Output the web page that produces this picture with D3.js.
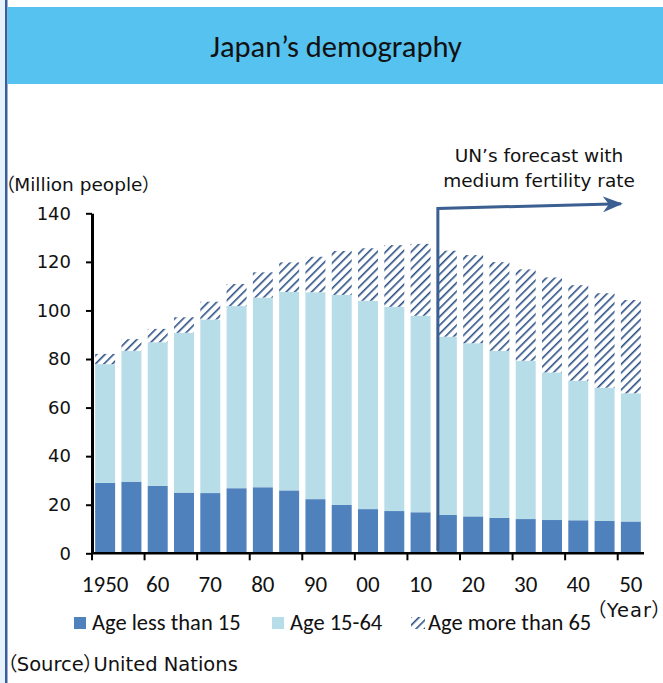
<!DOCTYPE html>
<html><head><meta charset="utf-8">
<script src="https://cdn.jsdelivr.net/npm/d3@7"></script>
<style>
html,body{margin:0;padding:0;background:#fff;}
svg{display:block;}
.goth{font-family:"DejaVu Sans","Noto Sans CJK JP",sans-serif;font-feature-settings:"palt";}
.cal{font-family:Carlito,Lato,"Open Sans",sans-serif;}
</style>
</head><body>
<svg id="chart" width="663" height="683"></svg>
<script>
const years = ["1950","1955","1960","1965","1970","1975","1980","1985","1990","1995","2000","2005","2010","2015","2020","2025","2030","2035","2040","2045","2050"];
const tickLabels = ["1950","60","70","80","90","00","10","20","30","40","50"];
const under15 = [29.0,29.5,27.8,25.0,24.8,26.8,27.2,25.9,22.3,19.9,18.2,17.4,16.9,15.8,15.2,14.6,14.1,13.7,13.6,13.3,13.1];
const age15to64 = [48.9,53.9,59.1,65.8,71.5,75.0,78.1,81.7,85.2,86.5,85.8,84.1,80.9,73.4,71.3,68.8,65.2,60.8,57.5,54.9,52.8];
const over65 = [4.2,4.8,5.5,6.4,7.3,9.1,10.4,12.2,14.6,18.1,21.6,25.4,29.6,35.4,36.3,36.5,37.6,39.1,39.3,38.9,38.4];
const yTicks = [0,20,40,60,80,100,120,140];
const seriesNames = ["Age less than 15","Age 15-64","Age more than 65"];
const forecastStart = "2015";

const svg = d3.select("#chart");
const W = 663, H = 683;

// frame
svg.append("rect").attr("x",0).attr("y",0).attr("width",5).attr("height",H).attr("fill","#e6f2fb");
svg.append("rect").attr("x",5).attr("y",0).attr("width",2.5).attr("height",H).attr("fill","#3c5d9c");
svg.append("rect").attr("x",7.5).attr("y",7).attr("width",W-7.5).attr("height",77).attr("fill","#56c2f0");
svg.append("text").attr("class","cal").attr("x",336).attr("y",57).attr("text-anchor","middle")
  .attr("font-size",30.5).attr("fill","#111").text("Japan\u2019s demography");

// defs: hatch
const defs = svg.append("defs");
const pat = defs.append("pattern").attr("id","hatch").attr("patternUnits","userSpaceOnUse")
  .attr("width",6).attr("height",6).attr("patternTransform","rotate(45)");
pat.append("rect").attr("width",6).attr("height",6).attr("fill","#fff");
pat.append("rect").attr("x",0).attr("y",0).attr("width",1.6).attr("height",6).attr("fill","#2a4f86");

const x = d3.scaleBand().domain(years).range([92,644]).paddingInner(0.24).paddingOuter(0.12);
const y = d3.scaleLinear().domain([0,140]).range([553.3,213.3]);

const data = years.map((yr,i)=>({year:yr,a:under15[i],b:age15to64[i],c:over65[i]}));
const stack = d3.stack().keys(["a","b","c"])(data);
const fills = ["#4f81bd","#b7dde8","url(#hatch)"];

svg.append("g").selectAll("g").data(stack).join("g").attr("fill",(d,i)=>fills[i])
  .selectAll("rect").data(d=>d).join("rect")
  .attr("x",d=>x(d.data.year)).attr("width",x.bandwidth())
  .attr("y",d=>y(d[1])).attr("height",d=>y(d[0])-y(d[1]));

// y axis
const yAxis = svg.append("g").attr("transform","translate(92,0)")
  .call(d3.axisLeft(y).tickValues(yTicks).tickSize(6).tickPadding(15).tickSizeOuter(0));
yAxis.select(".domain").attr("stroke","#000").attr("stroke-width",3);
yAxis.selectAll(".tick line").attr("stroke","#000").attr("stroke-width",2);
yAxis.selectAll(".tick text").attr("class","goth").attr("font-size",18).attr("fill","#111");

// x axis
const step = x.step();
const edge = yr => x(yr) - step*x.paddingInner()/2;
svg.append("line").attr("x1",92).attr("x2",644).attr("y1",y(0)).attr("y2",y(0))
  .attr("stroke","#000").attr("stroke-width",2.6);
const labeled = years.filter((d,i)=>i%2===0);
const xt = svg.append("g");
xt.selectAll("line").data(labeled).join("line")
  .attr("x1",d=>edge(d)).attr("x2",d=>edge(d)).attr("y1",y(0)).attr("y2",y(0)+7)
  .attr("stroke","#000").attr("stroke-width",2);
xt.selectAll("text").data(labeled).join("text").attr("class","cal")
  .attr("x",d=>x(d)+x.bandwidth()/2).attr("y",592).attr("text-anchor","middle")
  .attr("font-size",23).attr("fill","#111").text((d,i)=>tickLabels[i]);

// axis titles
svg.append("text").attr("class","goth").attr("x",5).attr("y",191).attr("font-size",18.5).attr("fill","#111").text("\uff08Million people\uff09");
svg.append("text").attr("class","goth").attr("x",596).attr("y",617).attr("font-size",19.5).attr("letter-spacing",1).attr("fill","#111").text("\uff08Year\uff09");

// annotation
const xa = x(forecastStart)+1;
defs.append("marker").attr("id","arr").attr("viewBox","0 0 20 16").attr("refX",18).attr("refY",8)
  .attr("markerWidth",20).attr("markerHeight",16).attr("markerUnits","userSpaceOnUse").attr("orient","auto")
  .append("path").attr("d","M0,0 L20,8 L0,16 L6,8 Z").attr("fill","#3a5f90");
svg.append("path").attr("d",`M${xa},${y(1)} L${xa},${y(142)} L${x("2050")},${y(143.9)}`)
  .attr("fill","none").attr("stroke","#3a5f90").attr("stroke-width",3).attr("marker-end","url(#arr)");
svg.append("text").attr("class","goth").attr("x",539).attr("y",162).attr("text-anchor","middle").attr("font-size",18.5).attr("fill","#111").text("UN\u2019s forecast with");
svg.append("text").attr("class","goth").attr("x",539).attr("y",187).attr("text-anchor","middle").attr("font-size",18.5).attr("fill","#111").text("medium fertility rate");

// legend
const legX = [74,272,411];
const leg = svg.append("g");
seriesNames.forEach((n,i)=>{
  leg.append("rect").attr("x",legX[i]).attr("y",617).attr("width",i===2?14:12).attr("height",12).attr("fill",fills[i]);
  leg.append("text").attr("class","cal").attr("x",legX[i]+(i===2?17:18)).attr("y",630).attr("font-size",22.5).attr("fill","#111").text(n);
});

// source
svg.append("text").attr("class","goth").attr("x",7).attr("y",671).attr("font-size",19.5).attr("fill","#111").text("\uff08Source\uff09United Nations");
</script>
</body></html>
